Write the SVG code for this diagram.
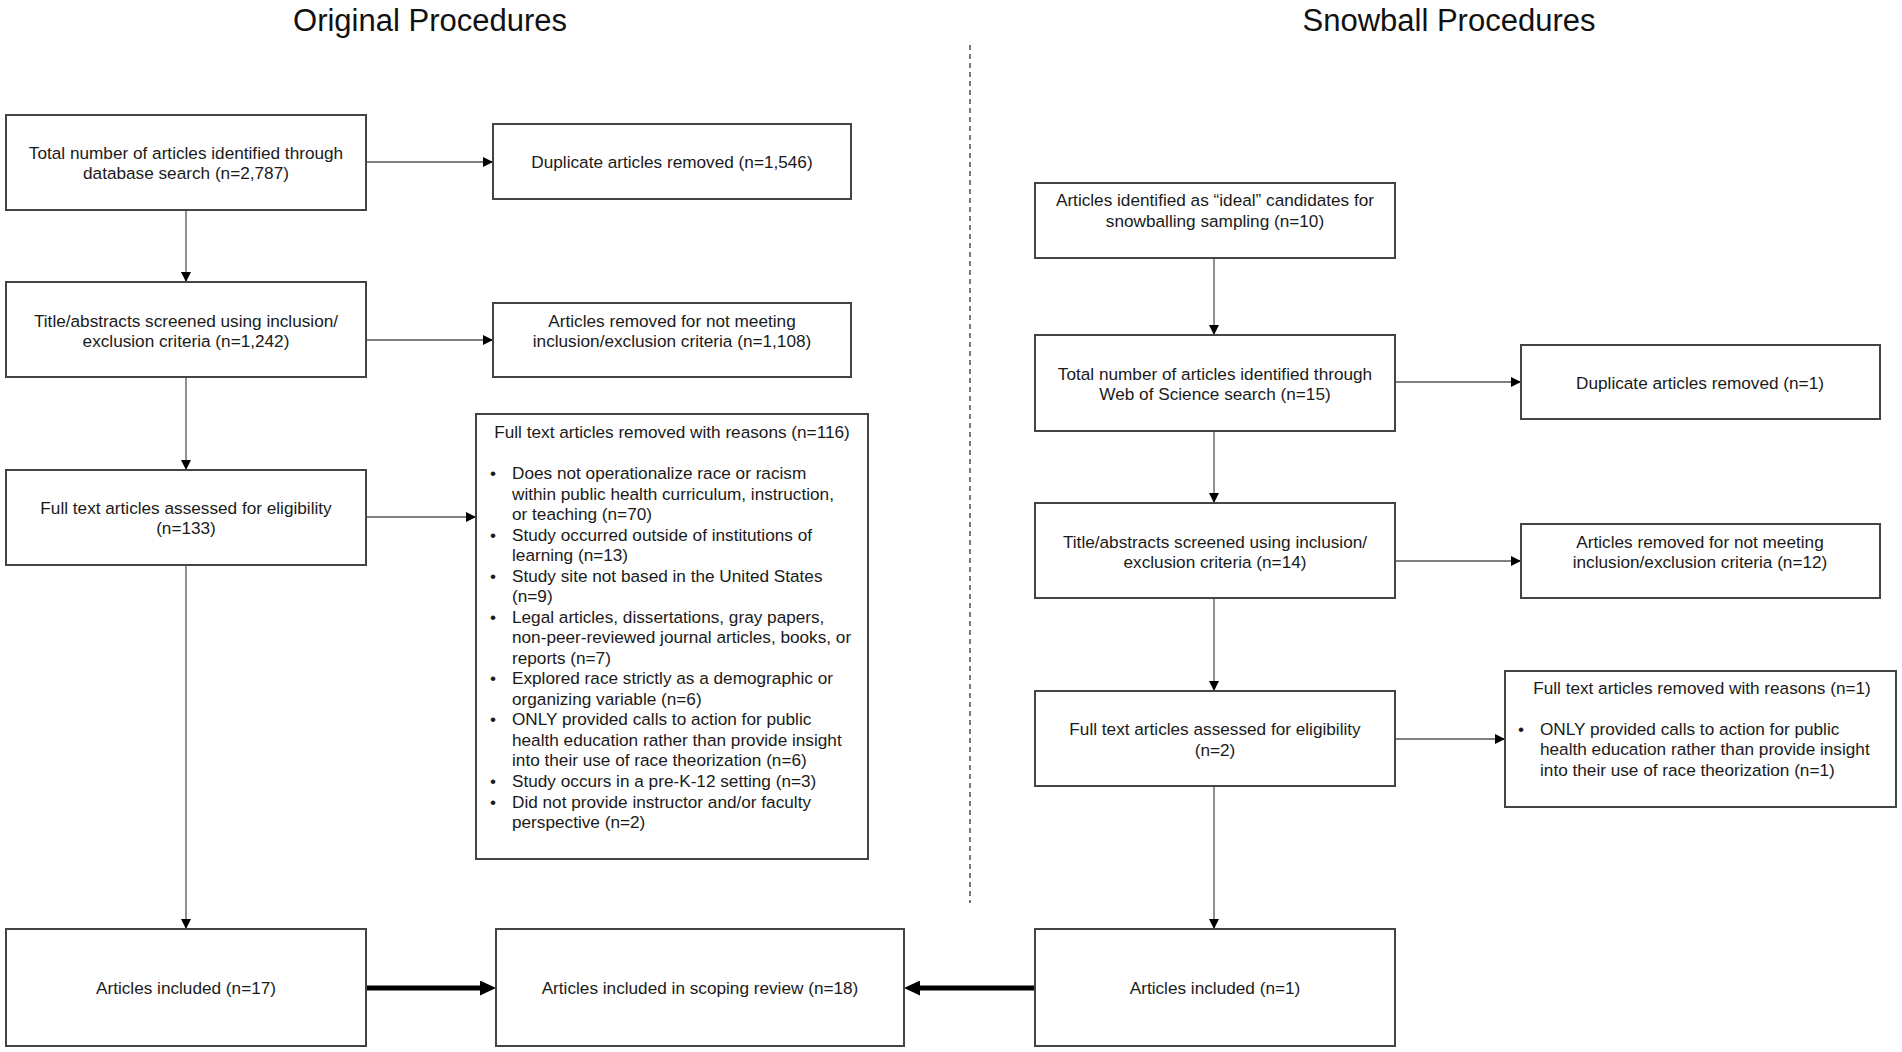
<svg xmlns="http://www.w3.org/2000/svg" width="1902" height="1052" viewBox="0 0 1902 1052">
<style>
  .box { fill: #ffffff; stroke: #444444; stroke-width: 2; }
  .t { font-family: "Liberation Sans", Arial, sans-serif; font-size: 17.2px; fill: #1a1a1a; }
  .c { text-anchor: middle; }
  .title { font-family: "Liberation Sans", Arial, sans-serif; font-size: 31px; fill: #111111; text-anchor: middle; }
  .ln { stroke: #555555; stroke-width: 1.3; fill: none; }
  .thick { stroke: #000000; stroke-width: 5; fill: none; }
</style>
<defs>
  <marker id="ah" markerUnits="userSpaceOnUse" markerWidth="10" markerHeight="10" refX="10" refY="5" orient="auto">
    <path d="M0,0 L10,5 L0,10 Z" fill="#000000"/>
  </marker>
  <marker id="ahb" markerUnits="userSpaceOnUse" markerWidth="16" markerHeight="15" refX="2" refY="7.5" orient="auto">
    <path d="M0,0 L16,7.5 L0,15 Z" fill="#000000"/>
  </marker>
</defs>
<rect width="1902" height="1052" fill="#ffffff"/>

<text class="title" x="430" y="31">Original Procedures</text>
<text class="title" x="1449" y="31">Snowball Procedures</text>

<g id="connectors">
  <line x1="970" y1="45" x2="970" y2="903" stroke="#333333" stroke-width="1.3" stroke-dasharray="5,4"/>
  <line class="ln" x1="366" y1="162" x2="493" y2="162" marker-end="url(#ah)"/>
  <line class="ln" x1="366" y1="340" x2="493" y2="340" marker-end="url(#ah)"/>
  <line class="ln" x1="366" y1="517" x2="476" y2="517" marker-end="url(#ah)"/>
  <line class="ln" x1="186" y1="210" x2="186" y2="282" marker-end="url(#ah)"/>
  <line class="ln" x1="186" y1="377" x2="186" y2="470" marker-end="url(#ah)"/>
  <line class="ln" x1="186" y1="565" x2="186" y2="929" marker-end="url(#ah)"/>
  <line class="ln" x1="1214" y1="258" x2="1214" y2="335" marker-end="url(#ah)"/>
  <line class="ln" x1="1214" y1="431" x2="1214" y2="503" marker-end="url(#ah)"/>
  <line class="ln" x1="1214" y1="598" x2="1214" y2="691" marker-end="url(#ah)"/>
  <line class="ln" x1="1214" y1="786" x2="1214" y2="929" marker-end="url(#ah)"/>
  <line class="ln" x1="1395" y1="382" x2="1521" y2="382" marker-end="url(#ah)"/>
  <line class="ln" x1="1395" y1="561" x2="1521" y2="561" marker-end="url(#ah)"/>
  <line class="ln" x1="1395" y1="739" x2="1505" y2="739" marker-end="url(#ah)"/>
  <line class="thick" x1="366" y1="988" x2="482" y2="988" marker-end="url(#ahb)"/>
  <line class="thick" x1="1035" y1="988" x2="918" y2="988" marker-end="url(#ahb)"/>
</g>

<g id="orig-total">
  <rect class="box" x="6" y="115" width="360" height="95"/>
  <text class="t c" x="186" y="159">Total number of articles identified through</text>
  <text class="t c" x="186" y="179">database search (n=2,787)</text>
</g>
<g id="orig-duplicates">
  <rect class="box" x="493" y="124" width="358" height="75"/>
  <text class="t c" x="672" y="168">Duplicate articles removed (n=1,546)</text>
</g>
<g id="orig-screened">
  <rect class="box" x="6" y="282" width="360" height="95"/>
  <text class="t c" x="186" y="327">Title/abstracts screened using inclusion/</text>
  <text class="t c" x="186" y="347">exclusion criteria (n=1,242)</text>
</g>
<g id="orig-removed">
  <rect class="box" x="493" y="303" width="358" height="74"/>
  <text class="t c" x="672" y="327">Articles removed for not meeting</text>
  <text class="t c" x="672" y="347">inclusion/exclusion criteria (n=1,108)</text>
</g>
<g id="orig-fulltext">
  <rect class="box" x="6" y="470" width="360" height="95"/>
  <text class="t c" x="186" y="514">Full text articles assessed for eligibility</text>
  <text class="t c" x="186" y="534">(n=133)</text>
</g>
<g id="orig-reasons">
  <rect class="box" x="476" y="414" width="392" height="445"/>
  <text class="t c" x="672" y="438">Full text articles removed with reasons (n=116)</text>
  <text class="t" x="490" y="479">•</text>
  <text class="t" x="512" y="479">Does not operationalize race or racism</text>
  <text class="t" x="512" y="499.5">within public health curriculum, instruction,</text>
  <text class="t" x="512" y="520">or teaching (n=70)</text>
  <text class="t" x="490" y="540.6">•</text>
  <text class="t" x="512" y="540.6">Study occurred outside of institutions of</text>
  <text class="t" x="512" y="561.1">learning (n=13)</text>
  <text class="t" x="490" y="581.7">•</text>
  <text class="t" x="512" y="581.7">Study site not based in the United States</text>
  <text class="t" x="512" y="602.2">(n=9)</text>
  <text class="t" x="490" y="622.7">•</text>
  <text class="t" x="512" y="622.7">Legal articles, dissertations, gray papers,</text>
  <text class="t" x="512" y="643.2">non-peer-reviewed journal articles, books, or</text>
  <text class="t" x="512" y="663.8">reports (n=7)</text>
  <text class="t" x="490" y="684.3">•</text>
  <text class="t" x="512" y="684.3">Explored race strictly as a demographic or</text>
  <text class="t" x="512" y="704.8">organizing variable (n=6)</text>
  <text class="t" x="490" y="725.4">•</text>
  <text class="t" x="512" y="725.4">ONLY provided calls to action for public</text>
  <text class="t" x="512" y="745.9">health education rather than provide insight</text>
  <text class="t" x="512" y="766.4">into their use of race theorization (n=6)</text>
  <text class="t" x="490" y="786.9">•</text>
  <text class="t" x="512" y="786.9">Study occurs in a pre-K-12 setting (n=3)</text>
  <text class="t" x="490" y="807.5">•</text>
  <text class="t" x="512" y="807.5">Did not provide instructor and/or faculty</text>
  <text class="t" x="512" y="828">perspective (n=2)</text>
</g>
<g id="orig-included">
  <rect class="box" x="6" y="929" width="360" height="117"/>
  <text class="t c" x="186" y="994">Articles included (n=17)</text>
</g>
<g id="scoping-included">
  <rect class="box" x="496" y="929" width="408" height="117"/>
  <text class="t c" x="700" y="994">Articles included in scoping review (n=18)</text>
</g>

<g id="snow-ideal">
  <rect class="box" x="1035" y="183" width="360" height="75"/>
  <text class="t c" x="1215" y="206">Articles identified as “ideal” candidates for</text>
  <text class="t c" x="1215" y="227">snowballing sampling (n=10)</text>
</g>
<g id="snow-total">
  <rect class="box" x="1035" y="335" width="360" height="96"/>
  <text class="t c" x="1215" y="380">Total number of articles identified through</text>
  <text class="t c" x="1215" y="400">Web of Science search (n=15)</text>
</g>
<g id="snow-duplicates">
  <rect class="box" x="1521" y="345" width="359" height="74"/>
  <text class="t c" x="1700" y="389">Duplicate articles removed (n=1)</text>
</g>
<g id="snow-screened">
  <rect class="box" x="1035" y="503" width="360" height="95"/>
  <text class="t c" x="1215" y="548">Title/abstracts screened using inclusion/</text>
  <text class="t c" x="1215" y="568">exclusion criteria (n=14)</text>
</g>
<g id="snow-removed">
  <rect class="box" x="1521" y="524" width="359" height="74"/>
  <text class="t c" x="1700" y="548">Articles removed for not meeting</text>
  <text class="t c" x="1700" y="568">inclusion/exclusion criteria (n=12)</text>
</g>
<g id="snow-fulltext">
  <rect class="box" x="1035" y="691" width="360" height="95"/>
  <text class="t c" x="1215" y="735">Full text articles assessed for eligibility</text>
  <text class="t c" x="1215" y="756">(n=2)</text>
</g>
<g id="snow-reasons">
  <rect class="box" x="1505" y="671" width="391" height="136"/>
  <text class="t c" x="1702" y="694">Full text articles removed with reasons (n=1)</text>
  <text class="t" x="1518" y="735">•</text>
  <text class="t" x="1540" y="735">ONLY provided calls to action for public</text>
  <text class="t" x="1540" y="755">health education rather than provide insight</text>
  <text class="t" x="1540" y="776">into their use of race theorization (n=1)</text>
</g>
<g id="snow-included">
  <rect class="box" x="1035" y="929" width="360" height="117"/>
  <text class="t c" x="1215" y="994">Articles included (n=1)</text>
</g>
</svg>
